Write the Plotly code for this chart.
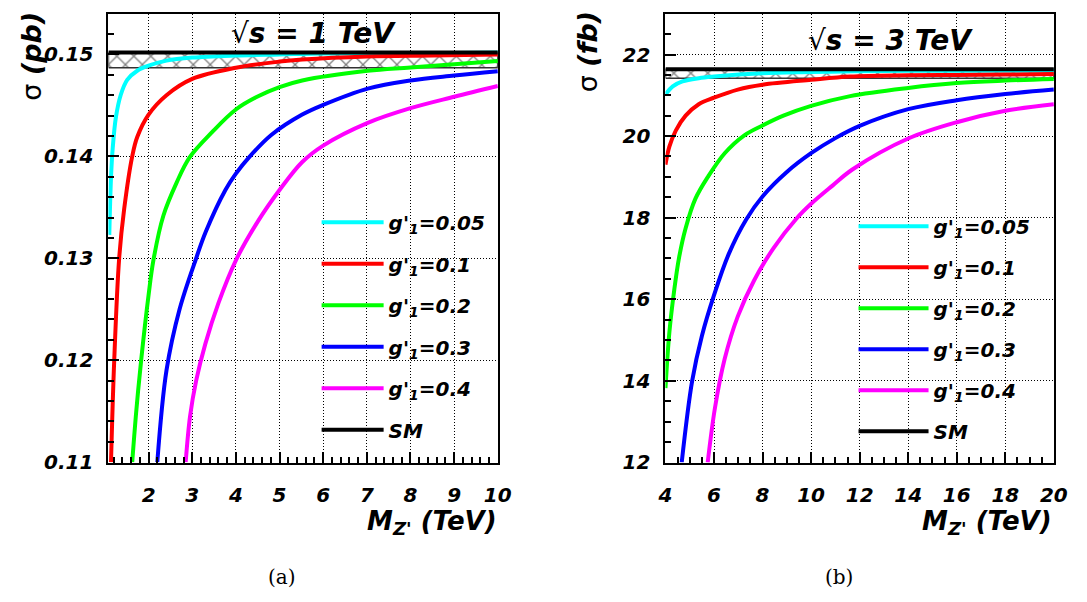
import plotly.graph_objects as go

# ---------------- data: sqrt(s) = 1 TeV (pb) ----------------
m1_005 = [1.10, 1.14, 1.18, 1.25, 1.36, 1.51, 1.74, 2.0, 2.41, 3.0, 4.0, 5.0, 6.0, 8.0, 10.0]
s1_005 = [0.1323, 0.1380, 0.1409, 0.1438, 0.1460, 0.1475, 0.1484, 0.1489, 0.1494, 0.1497, 0.1499, 0.1500, 0.1501, 0.1501, 0.1502]
m1_01 = [1.139, 1.213, 1.326, 1.44, 1.625, 1.74, 2.0, 2.41, 3.0, 4.0, 5.0, 5.52, 7.0, 8.5, 10.0]
s1_01 = [0.110, 0.1200, 0.1300, 0.1348, 0.1400, 0.1419, 0.1441, 0.1460, 0.1476, 0.1487, 0.1493, 0.1495, 0.1498, 0.1499, 0.1500]
m1_02 = [1.625, 1.72, 1.83, 2.0, 2.11, 2.34, 2.64, 2.94, 3.46, 4.0, 4.51, 5.0, 5.52, 7.02, 8.0, 10.0]
s1_02 = [0.110, 0.1151, 0.1200, 0.1264, 0.1298, 0.1342, 0.1374, 0.1399, 0.1424, 0.1446, 0.1459, 0.1468, 0.14745, 0.1484, 0.14873, 0.14937]
m1_03 = [2.2, 2.41, 2.71, 3.09, 3.31, 3.76, 4.0, 4.32, 4.81, 5.52, 6.0, 7.02, 8.0, 9.0, 10.0]
s1_03 = [0.110, 0.1190, 0.1250, 0.1300, 0.1326, 0.1367, 0.1383, 0.1400, 0.1421, 0.1441, 0.14505, 0.14665, 0.14745, 0.14793, 0.14835]
m1_04 = [2.85, 2.95, 3.09, 3.3, 3.6, 4.0, 4.5, 5.0, 5.52, 6.0, 7.02, 8.0, 9.0, 10.0]
s1_04 = [0.110, 0.1145, 0.1180, 0.1216, 0.1256, 0.1298, 0.1336, 0.1367, 0.13945, 0.14106, 0.14329, 0.14473, 0.14585, 0.14691]
sm1 = 0.1502
sm1_low = 0.1487
x1_range = [1.08, 10.0]

# ---------------- data: sqrt(s) = 3 TeV (fb) ----------------
m3_005 = [4.0, 4.3, 4.7, 5.37, 6.0, 8.0, 10.0, 11.8, 14.0, 16.0, 18.0, 20.0]
s3_005 = [21.02, 21.22, 21.34, 21.42, 21.46, 21.54, 21.57, 21.59, 21.60, 21.60, 21.60, 21.60]
m3_01 = [4.0, 4.16, 4.43, 4.83, 5.37, 6.0, 6.98, 8.0, 10.0, 11.61, 14.0, 16.0, 18.0, 20.0]
s3_01 = [19.30, 19.74, 20.14, 20.50, 20.78, 20.94, 21.14, 21.26, 21.38, 21.46, 21.49, 21.50, 21.51, 21.52]
m3_02 = [4.0, 4.16, 4.36, 4.56, 4.83, 5.23, 5.77, 6.44, 7.25, 8.0, 8.86, 10.0, 11.61, 14.0, 16.0, 18.0, 20.0]
s3_02 = [13.82, 15.18, 16.22, 17.02, 17.74, 18.46, 19.02, 19.58, 20.02, 20.26, 20.50, 20.74, 20.98, 21.18, 21.30, 21.36, 21.40]
m3_03 = [4.67, 5.1, 5.5, 6.0, 6.6, 7.32, 8.0, 9.0, 10.0, 11.0, 12.0, 14.0, 16.0, 18.0, 20.0]
s3_03 = [12.0, 14.0, 15.1, 16.1, 17.1, 17.95, 18.52, 19.12, 19.58, 19.95, 20.25, 20.66, 20.88, 21.03, 21.14]
m3_04 = [5.74, 6.04, 6.44, 6.98, 7.65, 8.46, 9.4, 10.0, 10.87, 11.7, 14.0, 16.0, 18.0, 20.0]
s3_04 = [12.0, 13.34, 14.54, 15.58, 16.46, 17.26, 17.98, 18.34, 18.78, 19.18, 19.94, 20.34, 20.62, 20.78]
sm3 = 21.64
sm3_low = 21.42
x3_range = [4.0, 20.0]

labels = ["g'<sub>1</sub>=0.05", "g'<sub>1</sub>=0.1", "g'<sub>1</sub>=0.2",
          "g'<sub>1</sub>=0.3", "g'<sub>1</sub>=0.4", "SM"]
colors = ["#00ffff", "#ff0000", "#00ff00", "#0000ff", "#ff00ff", "#000000"]

x1_ticks = [2, 3, 4, 5, 6, 7, 8, 9, 10]
y1_ticks = [0.11, 0.12, 0.13, 0.14, 0.15]
y1_text = ["0.11", "0.12", "0.13", "0.14", "0.15"]
x3_ticks = [4, 6, 8, 10, 12, 14, 16, 18, 20]
y3_ticks = [12, 14, 16, 18, 20, 22]

W, H = 1087, 602
LW = 4
fig = go.Figure()


def add_panel(curves, sm, sm_low, xr, xa, ya, legend):
    # hatched SM band
    fig.add_trace(go.Scatter(
        x=[xr[0], xr[1], xr[1], xr[0], xr[0]], y=[sm_low, sm_low, sm, sm, sm_low],
        xaxis=xa, yaxis=ya, mode="lines", fill="toself",
        line=dict(color="#333333", width=1.5),
        fillcolor="white",
        fillpattern=dict(shape="x", fgcolor="black", bgcolor="white", size=12, solidity=0.2),
        showlegend=False, hoverinfo="skip"))
    for i, (mx, sy) in enumerate(curves):
        fig.add_trace(go.Scatter(
            x=mx, y=sy, xaxis=xa, yaxis=ya, mode="lines", name=labels[i],
            line=dict(color=colors[i], width=LW, shape="spline", smoothing=1.0),
            legend=legend, legendgroup=legend + str(i)))
    fig.add_trace(go.Scatter(
        x=xr, y=[sm, sm], xaxis=xa, yaxis=ya, mode="lines", name=labels[5],
        line=dict(color=colors[5], width=LW), legend=legend, legendgroup=legend + "5"))


add_panel([(m1_005, s1_005), (m1_01, s1_01), (m1_02, s1_02), (m1_03, s1_03), (m1_04, s1_04)],
          sm1, sm1_low, x1_range, "x", "y", "legend")
add_panel([(m3_005, s3_005), (m3_01, s3_01), (m3_02, s3_02), (m3_03, s3_03), (m3_04, s3_04)],
          sm3, sm3_low, x3_range, "x2", "y2", "legend2")

tickfont = dict(family="DejaVu Sans", size=20, color="black", weight="bold", style="italic")
common = dict(showline=True, linecolor="black", linewidth=2, mirror=True,
              ticks="inside", ticklen=11, tickwidth=1.5, tickcolor="black",
              showgrid=True, gridcolor="black", gridwidth=1, griddash="1px,2px",
              zeroline=False, tickfont=tickfont)

top = 1 - 14 / H
bot = 1 - 472 / H
legfont = dict(family="DejaVu Sans", size=20, color="black", weight="bold", style="italic")
fig.update_layout(
    width=W, height=H, margin=dict(l=0, r=0, t=0, b=0),
    paper_bgcolor="white", plot_bgcolor="white",
    xaxis=dict(domain=[102.5 / W, 500 / W], range=[x1_range[0], 10.002], tickvals=x1_ticks,
               anchor="y", ticklabelstandoff=13,
               minor=dict(ticks="inside", ticklen=6, dtick=0.2, tick0=0, tickcolor="black", showgrid=False),
               **common),
    yaxis=dict(domain=[bot, top], range=[0.10995, 0.1540], tickvals=y1_ticks, ticktext=y1_text,
               anchor="x", ticklabelstandoff=9,
               minor=dict(ticks="inside", ticklen=6, dtick=0.002, tick0=0, tickcolor="black", showgrid=False),
               **common),
    xaxis2=dict(domain=[671 / W, 1067.5 / W], range=[3.998, 20.002], tickvals=x3_ticks,
                anchor="y2", ticklabelstandoff=13,
                minor=dict(ticks="inside", ticklen=6, dtick=0.5, tick0=0, tickcolor="black", showgrid=False),
                **common),
    yaxis2=dict(domain=[bot, top], range=[11.995, 23.0], tickvals=y3_ticks,
                anchor="x2", ticklabelstandoff=9,
                minor=dict(ticks="inside", ticklen=6, dtick=0.5, tick0=0, tickcolor="black", showgrid=False),
                **common),
    legend=dict(x=315 / W, y=1 - 207 / H, xanchor="left", yanchor="top",
                bgcolor="rgba(0,0,0,0)", borderwidth=0, itemwidth=62,
                traceorder="grouped", tracegroupgap=12.5, font=legfont),
    legend2=dict(x=863 / W, y=1 - 211 / H, xanchor="left", yanchor="top",
                 bgcolor="rgba(0,0,0,0)", borderwidth=0, itemwidth=70,
                 traceorder="grouped", tracegroupgap=12, font=legfont),
    showlegend=True,
)

ann_font = dict(family="DejaVu Sans", color="black")
anns = [
    dict(text="\u221a<b><i>s = 1 TeV</i></b>", x=312 / W, y=1 - 34 / H, font=dict(size=28, **ann_font),
         xanchor="center", yanchor="middle"),
    dict(text="\u221a<b><i>s = 3 TeV</i></b>", x=901 / W, y=1 - 41 / H, font=dict(size=28, **ann_font),
         xanchor="center", yanchor="middle"),
    dict(text="\u03c3 <b><i>(pb)</i></b>", x=24 / W, y=1 - 10 / H, textangle=-90,
         font=dict(size=27, **ann_font), xanchor="center", yanchor="top"),
    dict(text="\u03c3 <b><i>(fb)</i></b>", x=591 / W, y=1 - 10 / H, textangle=-90,
         font=dict(size=27, **ann_font), xanchor="center", yanchor="top"),
    dict(text="<b><i>M<sub>Z'</sub> (TeV)</i></b>", x=501 / W, y=1 - 514 / H,
         font=dict(size=26, **ann_font), xanchor="right", yanchor="top"),
    dict(text="<b><i>M<sub>Z'</sub> (TeV)</i></b>", x=1068 / W, y=1 - 514 / H,
         font=dict(size=26, **ann_font), xanchor="right", yanchor="top"),
    dict(text="(a)", x=280 / W, y=1 - 589 / H, font=dict(family="DejaVu Serif", size=20, color="black"),
         xanchor="center", yanchor="middle"),
    dict(text="(b)", x=848 / W, y=1 - 589 / H, font=dict(family="DejaVu Serif", size=20, color="black"),
         xanchor="center", yanchor="middle"),
]
for a in anns:
    fig.add_annotation(xref="paper", yref="paper", showarrow=False, **a)

fig.write_html("out.html")
